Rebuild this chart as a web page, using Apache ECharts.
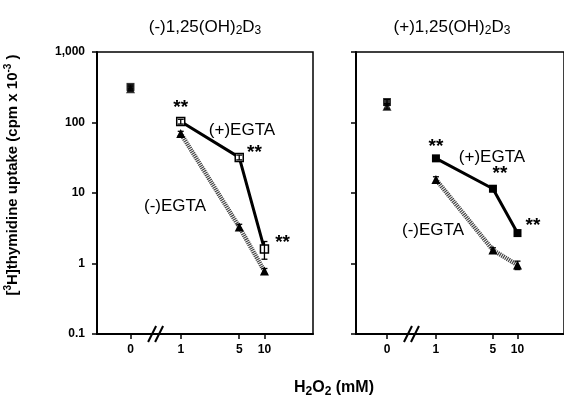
<!DOCTYPE html>
<html>
<head>
<meta charset="utf-8">
<script src="https://cdn.jsdelivr.net/npm/echarts@6/dist/echarts.min.js"></script>
<style>
  html, body { margin: 0; padding: 0; background: #fff; }
  #chart { width: 564px; height: 399px; }
</style>
</head>
<body>
<div id="chart"></div>
<script>
// H2O2 doses (mM)
const doses = [0, 1, 5, 10]
const doseLabels = ['0', '1', '5', '10']

// (-)1,25(OH)2D3 panel
const leftPlus = [320, 103, 32, 1.6]
const leftPlusErr = [20, 8, 2.5, 0.45]
const leftMinus = [300, 70, 3.3, 0.78]
const leftMinusErr = [20, 5, 0.3, 0.07]
const leftSig = ['', '**', '**', '**']

// (+)1,25(OH)2D3 panel
const rightPlus = [195, 31, 11.5, 2.7]
const rightPlusErr = [18, 2.5, 1, 0.25]
const rightMinus = [170, 15.5, 1.55, 0.95]
const rightMinusErr = [15, 1.5, 0.12, 0.13]
const rightSig = ['', '**', '**', '**']

const yLabels = { 0.1: '0.1', 1: '1', 10: '10', 100: '100', 1000: '1,000' }

// 0 sits left of the axis break, the rest on a log scale
const xPos = d => d === 0 ? -0.6 : Math.log10(d)
const BREAK_X = -0.3

const chart = echarts.init(document.getElementById('chart'))
const FONT = 'Liberation Sans, Arial, sans-serif'

function pts(vals, from) {
  return vals.map((v, i) => [xPos(doses[i]), v]).slice(from)
}

function errSeries(g, vals, errs) {
  return {
    type: 'custom',
    xAxisIndex: g, yAxisIndex: g,
    z: 5,
    data: vals.map((v, i) => [xPos(doses[i]), v, v - errs[i], v + errs[i]]),
    renderItem: (params, api) => {
      const lo = api.coord([api.value(0), api.value(2)])
      const hi = api.coord([api.value(0), api.value(3)])
      const w = 3
      const st = { stroke: '#000', lineWidth: 1.3 }
      return {
        type: 'group',
        children: [
          { type: 'line', shape: { x1: lo[0], y1: lo[1], x2: hi[0], y2: hi[1] }, style: st },
          { type: 'line', shape: { x1: lo[0] - w, y1: lo[1], x2: lo[0] + w, y2: lo[1] }, style: st },
          { type: 'line', shape: { x1: hi[0] - w, y1: hi[1], x2: hi[0] + w, y2: hi[1] }, style: st }
        ]
      }
    }
  }
}

function sigData(vals, sig, labelCfg) {
  return vals.map((v, i) => {
    const item = { value: [xPos(doses[i]), v] }
    if (sig[i]) {
      item.label = Object.assign({ show: true, formatter: sig[i] }, labelCfg[i])
    }
    return item
  }).slice(1)
}

function panelSeries(g, plus, plusErr, minus, minusErr, sig, openSquares, labelCfg) {
  const sqStyle = openSquares
    ? { color: '#fff', borderColor: '#000', borderWidth: 1.5 }
    : { color: '#000' }
  return [
    {
      type: 'line', xAxisIndex: g, yAxisIndex: g,
      data: pts(minus, 1),
      symbol: 'triangle', symbolSize: 9,
      itemStyle: { color: '#000' },
      lineStyle: { color: '#444', width: 4.5, type: [1.2, 0.9] },
      z: 2
    },
    {
      type: 'line', xAxisIndex: g, yAxisIndex: g,
      data: sigData(plus, sig, labelCfg),
      symbol: 'rect', symbolSize: 8,
      itemStyle: sqStyle,
      lineStyle: { color: '#000', width: 3 },
      label: { fontFamily: FONT, fontSize: 19, fontWeight: 'bold', color: '#000' },
      z: 3
    },
    {
      type: 'scatter', xAxisIndex: g, yAxisIndex: g,
      data: pts(minus, 0).slice(0, 1),
      symbol: 'triangle', symbolSize: 9,
      itemStyle: { color: '#000' }, z: 3
    },
    {
      type: 'scatter', xAxisIndex: g, yAxisIndex: g,
      data: pts(plus, 0).slice(0, 1),
      symbol: 'rect', symbolSize: 8,
      itemStyle: { color: '#000' }, z: 3
    },
    errSeries(g, plus, plusErr),
    errSeries(g, minus, minusErr)
  ]
}

function xAxis(g, min, max) {
  const ticks = doses.map(xPos)
  return {
    gridIndex: g, type: 'value', min: min, max: max,
    axisLine: { show: true, onZero: false, lineStyle: { color: '#000', width: 2 } },
    axisTick: { show: true, customValues: ticks, length: 5, lineStyle: { color: '#000', width: 1.5 } },
    axisLabel: {
      customValues: ticks, margin: 10,
      fontFamily: FONT, fontSize: 12, fontWeight: 'bold', color: '#000',
      formatter: v => {
        const i = ticks.findIndex(t => Math.abs(t - v) < 1e-6)
        return i >= 0 ? doseLabels[i] : ''
      }
    },
    splitLine: { show: false }
  }
}

function yAxis(g, showLabels) {
  return {
    gridIndex: g, type: 'log', logBase: 10, min: 0.1, max: 1000,
    axisLine: { show: true, onZero: false, lineStyle: { color: '#000', width: 2 } },
    axisTick: { show: true, length: 5, lineStyle: { color: '#000', width: 1.5 } },
    minorTick: { show: false },
    axisLabel: {
      show: showLabels, margin: 12,
      fontFamily: FONT, fontSize: 12, fontWeight: 'bold', color: '#000',
      formatter: v => yLabels[v] !== undefined ? yLabels[v] : ''
    },
    splitLine: { show: false }
  }
}

const rich = {
  n: { fontFamily: FONT, fontSize: 17, color: '#000', lineHeight: 20 },
  sub: { fontFamily: FONT, fontSize: 12, color: '#000', lineHeight: 20, verticalAlign: 'bottom' },
  b: { fontFamily: FONT, fontSize: 16, fontWeight: 'bold', color: '#000', lineHeight: 20 },
  bsub: { fontFamily: FONT, fontSize: 12, fontWeight: 'bold', color: '#000', lineHeight: 20, verticalAlign: 'bottom' },
  ysub: { fontFamily: FONT, fontSize: 10, fontWeight: 'bold', color: '#000', lineHeight: 20, verticalAlign: 'top' },
  y: { fontFamily: FONT, fontSize: 15, fontWeight: 'bold', color: '#000', lineHeight: 20 }
}

function txt(x, y, text, opts) {
  return Object.assign({
    type: 'text', x: x, y: y, z: 10,
    style: {
      text: text, rich: rich,
      fontFamily: FONT, fontSize: 16, fill: '#000',
      align: 'center', verticalAlign: 'middle'
    }
  }, opts || {})
}

const leftLabelCfg = [null,
  { position: 'top', distance: 0 },
  { position: 'right', distance: 3, offset: [0, -5] },
  { position: 'right', distance: 6, offset: [0, -6] }]
const rightLabelCfg = [null,
  { position: 'top', distance: -2 },
  { position: 'top', distance: 1, offset: [7, 0] },
  { position: 'right', distance: 4, offset: [0, -7] }]

chart.setOption({
  animation: false,
  grid: [
    { left: 97, top: 52, width: 216, height: 282, show: true, borderColor: '#000', borderWidth: 1.5 },
    { left: 356, top: 52, width: 214, height: 282, show: true, borderColor: '#000', borderWidth: 1.5 }
  ],
  xAxis: [xAxis(0, -1, 1.58), xAxis(1, -0.98, 1.57)],
  yAxis: [yAxis(0, true), yAxis(1, false)],
  series: [
    ...panelSeries(0, leftPlus, leftPlusErr, leftMinus, leftMinusErr, leftSig, true, leftLabelCfg),
    ...panelSeries(1, rightPlus, rightPlusErr, rightMinus, rightMinusErr, rightSig, false, rightLabelCfg)
  ]
})

// axis breaks, titles and text labels
const graphics = []
for (let g = 0; g < 2; g++) {
  const p = chart.convertToPixel({ gridIndex: g }, [BREAK_X, 0.1])
  for (const dx of [-3.5, 3.5]) {
    graphics.push({
      type: 'line', z: 10,
      shape: { x1: p[0] + dx - 4, y1: p[1] + 8, x2: p[0] + dx + 4, y2: p[1] - 8 },
      style: { stroke: '#000', lineWidth: 2 }
    })
  }
}
graphics.push(
  txt(205, 27, '{n|(-)1,25(OH)}{sub|2}{n|D}{sub|3}'),
  txt(452, 27, '{n|(+)1,25(OH)}{sub|2}{n|D}{sub|3}'),
  txt(242, 130, '{n|(+)EGTA}'),
  txt(175, 206, '{n|(-)EGTA}'),
  txt(492, 157, '{n|(+)EGTA}'),
  txt(433, 230, '{n|(-)EGTA}'),
  txt(334, 388, '{b|H}{bsub|2}{b|O}{bsub|2}{b| (mM)}'),
  txt(13, 175, '{y|[}{ysub|3}{y|H]thymidine uptake (cpm x 10}{ysub|-3}{y| )}', { rotation: Math.PI / 2 })
)
chart.setOption({ graphic: graphics })
</script>
</body>
</html>
